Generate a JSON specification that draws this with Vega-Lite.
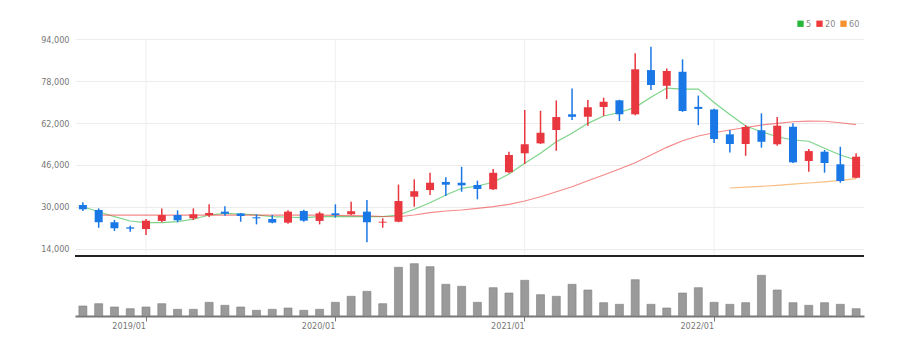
{
  "$schema": "https://vega.github.io/schema/vega-lite/v6.json",
  "width": 789,
  "height": 301,
  "autosize": {"type": "pad"},
  "padding": {"left": 35, "top": 15, "right": 50, "bottom": 5},
  "background": "white",
  "config": {
    "view": {"stroke": null},
    "font": "Liberation Sans Narrow, DejaVu Sans Condensed, sans-serif"
  },
  "datasets": {
    "p": [
      {"month": "2018/09", "open": 30700, "high": 31700, "low": 28400, "close": 29050, "volume": 1000, "ma5": 30040, "ma20": null, "ma60": null},
      {"month": "2018/10", "open": 28800, "high": 29400, "low": 22000, "close": 24100, "volume": 1230, "ma5": 28130, "ma20": 26800, "ma60": null},
      {"month": "2018/11", "open": 24100, "high": 24950, "low": 20750, "close": 21800, "volume": 900, "ma5": 26220, "ma20": 26800, "ma60": null},
      {"month": "2018/12", "open": 22150, "high": 22800, "low": 20500, "close": 21650, "volume": 730, "ma5": 24580, "ma20": 26800, "ma60": null},
      {"month": "2019/01", "open": 21500, "high": 25350, "low": 19250, "close": 24700, "volume": 900, "ma5": 23930, "ma20": 26800, "ma60": null},
      {"month": "2019/02", "open": 24600, "high": 29400, "low": 24100, "close": 26850, "volume": 1230, "ma5": 23930, "ma20": 26800, "ma60": null},
      {"month": "2019/03", "open": 26850, "high": 28650, "low": 24100, "close": 24850, "volume": 670, "ma5": 24310, "ma20": 26800, "ma60": null},
      {"month": "2019/04", "open": 25600, "high": 29400, "low": 24950, "close": 27150, "volume": 670, "ma5": 25230, "ma20": 26800, "ma60": null},
      {"month": "2019/05", "open": 26850, "high": 30950, "low": 26100, "close": 27650, "volume": 1370, "ma5": 26870, "ma20": 26800, "ma60": null},
      {"month": "2019/06", "open": 28150, "high": 30200, "low": 26600, "close": 27350, "volume": 1070, "ma5": 27520, "ma20": 26800, "ma60": null},
      {"month": "2019/07", "open": 27450, "high": 27650, "low": 24300, "close": 26500, "volume": 900, "ma5": 27260, "ma20": 26800, "ma60": null},
      {"month": "2019/08", "open": 26000, "high": 27150, "low": 23300, "close": 25600, "volume": 570, "ma5": 26870, "ma20": 26800, "ma60": null},
      {"month": "2019/09", "open": 25350, "high": 26850, "low": 23700, "close": 23950, "volume": 670, "ma5": 26220, "ma20": 26800, "ma60": null},
      {"month": "2019/10", "open": 23950, "high": 28650, "low": 23550, "close": 28150, "volume": 800, "ma5": 26000, "ma20": 26800, "ma60": null},
      {"month": "2019/11", "open": 28400, "high": 28900, "low": 24300, "close": 24700, "volume": 570, "ma5": 25840, "ma20": 26800, "ma60": null},
      {"month": "2019/12", "open": 24600, "high": 28150, "low": 23300, "close": 27500, "volume": 670, "ma5": 26220, "ma20": 26800, "ma60": null},
      {"month": "2020/01", "open": 27500, "high": 30950, "low": 25850, "close": 26850, "volume": 1370, "ma5": 26380, "ma20": 26700, "ma60": null},
      {"month": "2020/02", "open": 27150, "high": 31950, "low": 26850, "close": 28300, "volume": 1970, "ma5": 26220, "ma20": 26600, "ma60": null},
      {"month": "2020/03", "open": 28150, "high": 32600, "low": 16450, "close": 24100, "volume": 2470, "ma5": 26220, "ma20": 26500, "ma60": null},
      {"month": "2020/04", "open": 23950, "high": 25600, "low": 22000, "close": 24300, "volume": 1230, "ma5": 26220, "ma20": 26300, "ma60": null},
      {"month": "2020/05", "open": 24300, "high": 38500, "low": 24100, "close": 32200, "volume": 4870, "ma5": 26870, "ma20": 26200, "ma60": null},
      {"month": "2020/06", "open": 33850, "high": 40500, "low": 30050, "close": 35950, "volume": 5230, "ma5": 29050, "ma20": 26870, "ma60": null},
      {"month": "2020/07", "open": 36400, "high": 43000, "low": 34500, "close": 39200, "volume": 4930, "ma5": 31570, "ma20": 27750, "ma60": null},
      {"month": "2020/08", "open": 39500, "high": 41250, "low": 34150, "close": 38450, "volume": 3170, "ma5": 34510, "ma20": 28400, "ma60": null},
      {"month": "2020/09", "open": 39200, "high": 45300, "low": 35750, "close": 38200, "volume": 2970, "ma5": 37070, "ma20": 28780, "ma60": null},
      {"month": "2020/10", "open": 38350, "high": 40000, "low": 32850, "close": 36800, "volume": 1370, "ma5": 37950, "ma20": 29430, "ma60": null},
      {"month": "2020/11", "open": 36700, "high": 44450, "low": 36400, "close": 43000, "volume": 2830, "ma5": 39370, "ma20": 30040, "ma60": null},
      {"month": "2020/12", "open": 43200, "high": 51050, "low": 42800, "close": 49800, "volume": 2300, "ma5": 42540, "ma20": 30960, "ma60": null},
      {"month": "2021/01", "open": 50450, "high": 67000, "low": 46350, "close": 53900, "volume": 3570, "ma5": 46620, "ma20": 32220, "ma60": null},
      {"month": "2021/02", "open": 54250, "high": 66700, "low": 54000, "close": 58300, "volume": 2130, "ma5": 50440, "ma20": 33860, "ma60": null},
      {"month": "2021/03", "open": 59350, "high": 70650, "low": 51400, "close": 64300, "volume": 1970, "ma5": 54870, "ma20": 35770, "ma60": null},
      {"month": "2021/04", "open": 65350, "high": 75250, "low": 63150, "close": 64400, "volume": 3170, "ma5": 58080, "ma20": 37680, "ma60": null},
      {"month": "2021/05", "open": 64400, "high": 70800, "low": 61000, "close": 68000, "volume": 2600, "ma5": 61900, "ma20": 39980, "ma60": null},
      {"month": "2021/06", "open": 68150, "high": 71700, "low": 64700, "close": 70150, "volume": 1330, "ma5": 64690, "ma20": 42150, "ma60": null},
      {"month": "2021/07", "open": 70700, "high": 70900, "low": 62800, "close": 65350, "volume": 1170, "ma5": 66030, "ma20": 44450, "ma60": null},
      {"month": "2021/08", "open": 65350, "high": 88650, "low": 65000, "close": 82550, "volume": 3630, "ma5": 68010, "ma20": 46850, "ma60": null},
      {"month": "2021/09", "open": 82250, "high": 91150, "low": 74600, "close": 76550, "volume": 1170, "ma5": 71830, "ma20": 49790, "ma60": null},
      {"month": "2021/10", "open": 76250, "high": 82900, "low": 71200, "close": 81900, "volume": 800, "ma5": 75390, "ma20": 52730, "ma60": null},
      {"month": "2021/11", "open": 81600, "high": 86350, "low": 66300, "close": 66600, "volume": 2300, "ma5": 75000, "ma20": 55260, "ma60": null},
      {"month": "2021/12", "open": 68200, "high": 72500, "low": 61200, "close": 67400, "volume": 2830, "ma5": 75000, "ma20": 57050, "ma60": null},
      {"month": "2022/01", "open": 67200, "high": 67500, "low": 54400, "close": 55900, "volume": 1370, "ma5": 69850, "ma20": 58310, "ma60": null},
      {"month": "2022/02", "open": 57700, "high": 59350, "low": 50800, "close": 54000, "volume": 1170, "ma5": 65260, "ma20": 59340, "ma60": 37190},
      {"month": "2022/03", "open": 54000, "high": 61250, "low": 49500, "close": 60500, "volume": 1330, "ma5": 60870, "ma20": 60300, "ma60": 37490},
      {"month": "2022/04", "open": 59250, "high": 65700, "low": 52600, "close": 54850, "volume": 4070, "ma5": 58690, "ma20": 61250, "ma60": 37840},
      {"month": "2022/05", "open": 53900, "high": 64300, "low": 53350, "close": 61000, "volume": 2600, "ma5": 56780, "ma20": 61900, "ma60": 38220},
      {"month": "2022/06", "open": 60600, "high": 61900, "low": 46700, "close": 47000, "volume": 1330, "ma5": 55520, "ma20": 62510, "ma60": 38640},
      {"month": "2022/07", "open": 47500, "high": 52100, "low": 43400, "close": 51300, "volume": 1070, "ma5": 55060, "ma20": 62780, "ma60": 39100},
      {"month": "2022/08", "open": 51050, "high": 51700, "low": 43050, "close": 46750, "volume": 1330, "ma5": 52350, "ma20": 62700, "ma60": 39560},
      {"month": "2022/09", "open": 46250, "high": 52950, "low": 39200, "close": 39850, "volume": 1170, "ma5": 49790, "ma20": 62130, "ma60": 40130},
      {"month": "2022/10", "open": 41100, "high": 50450, "low": 40900, "close": 49150, "volume": 730, "ma5": 47880, "ma20": 61440, "ma60": 40740}
    ],
    "years": [
      {"month": "2019/01"}, {"month": "2020/01"}, {"month": "2021/01"}, {"month": "2022/01"}
    ]
  },
  "data": {"name": "p"},
  "layer": [
    {
      "layer": [
        {
          "data": {"name": "years"},
          "mark": {"type": "rule", "color": "#efefef", "strokeWidth": 1},
          "encoding": {
            "x": {"field": "month", "type": "ordinal"},
            "y": {"datum": 94000},
            "y2": {"datum": 11200}
          }
        },
        {
          "data": {"values": [{}]},
          "mark": {"type": "rule", "color": "#222222", "strokeWidth": 2},
          "encoding": {"y": {"datum": 11200}}
        },
        {
          "transform": [{"fold": ["ma5", "ma20", "ma60"], "as": ["ma", "val"]}],
          "mark": {"type": "line", "strokeWidth": 1.2, "opacity": 0.6},
          "encoding": {
            "x": {"field": "month", "type": "ordinal"},
            "y": {"field": "val", "type": "quantitative"},
            "color": {
              "field": "ma",
              "type": "nominal",
              "scale": {"domain": ["ma5", "ma20", "ma60"], "range": ["#27b83a", "#ee3a3a", "#f5922f"]},
              "legend": {
                "orient": "top-right",
                "direction": "horizontal",
                "title": null,
                "offset": 4,
                "padding": 0,
                "symbolType": "square",
                "symbolSize": 40,
                "symbolOpacity": 1,
                "symbolStrokeWidth": 0,
                "labelFontSize": 9,
                "labelColor": "#888888",
                "labelOffset": 1,
                "columnPadding": 3,
                "labelExpr": "replace(datum.label, 'ma', '')",
                "encode": {"symbols": {"update": {"fill": {"scale": "color", "field": "value"}, "opacity": {"value": 1}}}}
              }
            }
          }
        },
        {
          "mark": {"type": "rule", "strokeWidth": 1.5},
          "encoding": {
            "x": {"field": "month", "type": "ordinal"},
            "y": {"field": "low", "type": "quantitative"},
            "y2": {"field": "high"},
            "color": {"condition": {"test": "datum.close >= datum.open", "value": "#e8373e"}, "value": "#1a78e6"}
          }
        },
        {
          "mark": {"type": "bar", "size": 8},
          "encoding": {
            "x": {"field": "month", "type": "ordinal"},
            "y": {
              "field": "open",
              "type": "quantitative",
              "scale": {"domain": [11200, 103300], "range": [241, 0], "nice": false, "zero": false},
              "axis": {
                "title": null,
                "values": [14000, 30000, 46000, 62000, 78000, 94000],
                "format": ",d",
                "grid": true,
                "gridColor": "#ececec",
                "domain": false,
                "ticks": false,
                "labelColor": "#777777",
                "labelFontSize": 9,
                "labelPadding": 6,
                "minExtent": 40,
                "maxExtent": 40
              }
            },
            "y2": {"field": "close"},
            "color": {"condition": {"test": "datum.close >= datum.open", "value": "#e8373e"}, "value": "#1a78e6"}
          }
        }
      ]
    },
    {
      "mark": {"type": "bar", "size": 8, "color": "#9a9a9a", "stroke": "#7d7d7d", "strokeWidth": 0.6},
      "encoding": {
        "x": {
          "field": "month",
          "type": "ordinal",
          "scale": {"paddingInner": 0, "paddingOuter": 0},
          "axis": {
            "title": null,
            "values": ["2019/01", "2020/01", "2021/01", "2022/01"],
            "bandPosition": 0.5,
            "grid": false,
            "labelAngle": 0,
            "domainColor": "#777777",
            "domainWidth": 2,
            "tickColor": "#777777",
            "tickSize": 5,
            "labelColor": "#777777",
            "labelFontSize": 9,
            "labelPadding": 4
          }
        },
        "y": {
          "field": "volume",
          "type": "quantitative",
          "scale": {"domain": [0, 6000], "range": [301, 241], "nice": false},
          "axis": null
        }
      }
    }
  ],
  "resolve": {"scale": {"y": "independent"}, "axis": {"y": "independent"}}
}
